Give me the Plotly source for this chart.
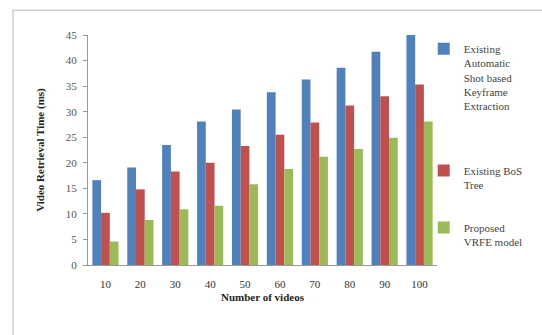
import plotly.graph_objects as go

categories = ["10", "20", "30", "40", "50", "60", "70", "80", "90", "100"]
existing_auto = [16.6, 19.1, 23.5, 28.1, 30.4, 33.8, 36.3, 38.6, 41.7, 45.2]
existing_bos = [10.2, 14.8, 18.3, 20.0, 23.3, 25.5, 27.9, 31.2, 33.0, 35.3]
proposed = [4.6, 8.8, 10.9, 11.6, 15.8, 18.8, 21.2, 22.7, 24.9, 28.1]

names = ["Existing<br>Automatic<br>Shot based<br>Keyframe<br>Extraction",
         "Existing BoS<br>Tree",
         "Proposed<br>VRFE model"]
colors = ["#4F81BD", "#C0504D", "#9BBB59"]
series = [existing_auto, existing_bos, proposed]
legends = ["legend", "legend2", "legend3"]

font_family = "Liberation Serif, Times New Roman, serif"

fig = go.Figure()
for nm, col, vals, lg in zip(names, colors, series, legends):
    fig.add_trace(go.Bar(x=categories, y=vals, name=nm, marker_color=col,
                         marker_line_width=0, legend=lg, showlegend=True))

leg_common = dict(font=dict(family=font_family, size=11, color="#444"),
                  bgcolor="rgba(0,0,0,0)", xanchor="left", yanchor="top",
                  itemwidth=30, tracegroupgap=0, visible=True, valign="top")

fig.update_layout(
    width=542, height=335,
    showlegend=True,
    margin=dict(l=88, r=105, t=35, b=70),
    paper_bgcolor="white", plot_bgcolor="white",
    font=dict(family=font_family, size=11, color="#333"),
    bargap=0.25, bargroupgap=0,
    legend=dict(x=0.962, y=1.0, **leg_common),
    legend2=dict(x=0.962, y=0.47, **leg_common),
    legend3=dict(x=0.962, y=0.222, **leg_common),
    xaxis=dict(title=dict(text="<b>Number of videos</b>", font=dict(size=11, color="#222"), standoff=4),
               showline=True, linecolor="#999", linewidth=1,
               ticks="", ticklabelstandoff=9, tickfont=dict(size=11, color="#333")),
    yaxis=dict(title=dict(text="<b>Video Retrieval Time (ms)</b>", font=dict(size=11, color="#222"), standoff=18),
               range=[0, 45], dtick=5, showgrid=False, zeroline=False,
               showline=True, linecolor="#999", linewidth=1,
               ticks="outside", ticklen=4, tickcolor="#999", ticklabelstandoff=4,
               tickfont=dict(size=11, color="#555")),
)

fig.add_shape(type="rect", xref="paper", yref="paper",
              x0=-0.215, x1=3.0, y0=-2.0, y1=1.108,
              line=dict(color="#cfcfcf", width=1.5), fillcolor="rgba(0,0,0,0)", layer="below")

fig.write_html("out.html")
